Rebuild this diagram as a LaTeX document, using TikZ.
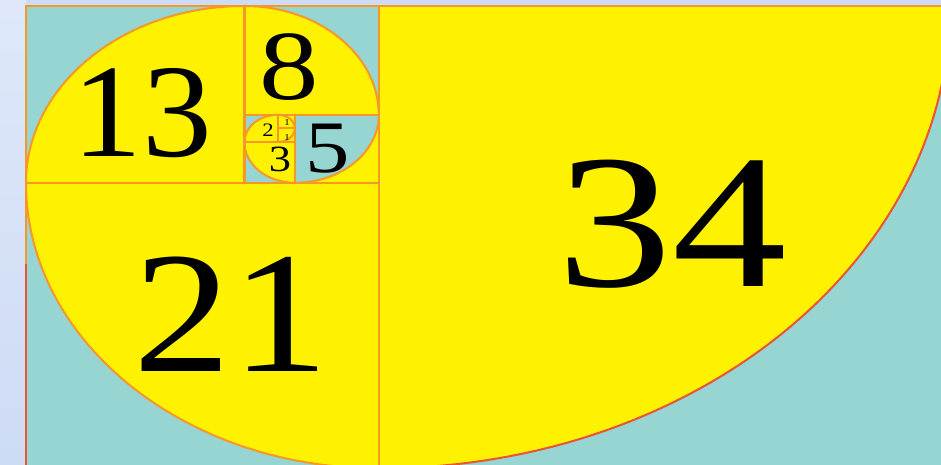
\documentclass[tikz,border=0pt]{standalone}
\usepackage{fontspec}
\setmainfont{Liberation Serif}
\usepackage{graphicx}
\definecolor{bgblue}{RGB}{206,219,245}
\definecolor{bglight}{RGB}{222,232,250}
\definecolor{fibteal}{RGB}{150,213,210}
\definecolor{fibyellow}{RGB}{255,242,0}
\definecolor{fibline}{RGB}{245,152,40}
\definecolor{fibred}{RGB}{232,84,52}
\tikzset{
  qr/.style={x radius=#1*16.8pt, y radius=#1*13.6pt},
  sq/.style={draw=fibline, line width=2.2pt},
  spiral/.style={draw=fibline, line width=2pt},
  spiralred/.style={draw=fibred, line width=2pt},
  lbl/.style={anchor=base, inner sep=0pt, text=black},
}
\newcommand{\fibnum}[3][1.2]{\fontsize{#2}{#2}\selectfont\scalebox{#1}[1]{#3}}
\begin{document}
\begin{tikzpicture}
\useasboundingbox (0,0) rectangle (941pt,465pt);
\clip (0,0) rectangle (941pt,465pt);
\fill[bgblue] (0,0) rectangle (941pt,465pt);
\shade[top color=bglight, bottom color=bgblue] (0,0) rectangle (26pt,465pt);
\begin{scope}[shift={(26pt,-3.4pt)}, x=16.8pt, y=13.6pt]
  % base colour
  \fill[fibteal] (0,0) rectangle (55,34);
  % yellow quarter discs
  \fill[fibyellow] (21,34) -- (55,34) arc[start angle=0,end angle=-90,qr=34] -- cycle;
  \fill[fibyellow] (21,21) -- (21,0) arc[start angle=-90,end angle=-180,qr=21] -- cycle;
  \fill[fibyellow] (13,21) -- (0,21) arc[start angle=180,end angle=90,qr=13] -- cycle;
  \fill[fibyellow] (13,26) -- (13,34) arc[start angle=90,end angle=0,qr=8] -- cycle;
  \fill[fibyellow] (16,21) rectangle (21,26);
  \fill[fibteal] (16,26) -- (21,26) arc[start angle=0,end angle=-90,qr=5] -- cycle;
  \fill[fibyellow] (16,24) -- (16,21) arc[start angle=-90,end angle=-180,qr=3] -- cycle;
  \fill[fibyellow] (15,24) -- (13,24) arc[start angle=180,end angle=90,qr=2] -- cycle;
  \fill[fibyellow] (15,24) rectangle (16,26);
  % spiral arcs
  \draw[spiralred] (55,34) arc[start angle=0,end angle=-90,qr=34];
  \draw[spiral] (21,0) arc[start angle=-90,end angle=-180,qr=21];
  \draw[spiral] (0,21) arc[start angle=180,end angle=90,qr=13];
  \draw[spiral] (13,34) arc[start angle=90,end angle=0,qr=8];
  \draw[spiral] (21,26) arc[start angle=0,end angle=-90,qr=5];
  \draw[spiral] (16,21) arc[start angle=-90,end angle=-180,qr=3];
  \draw[spiral] (13,24) arc[start angle=180,end angle=90,qr=2];
  \draw[spiral] (15,26) arc[start angle=90,end angle=0,qr=1];
  \draw[spiral] (16,25) arc[start angle=0,end angle=-90,qr=1];
  % square borders
  \draw[sq] (21,0) rectangle (55,34);
  \draw[sq] (0,0) rectangle (21,21);
  \draw[sq] (0,21) rectangle (13,34);
  \draw[sq] (13,26) rectangle (21,34);
  \draw[sq] (16,21) rectangle (21,26);
  \draw[sq] (13,21) rectangle (16,24);
  \draw[sq] (13,24) rectangle (15,26);
  \draw[sq] (15,25) rectangle (16,26);
  \draw[sq] (15,24) rectangle (16,25);
  \draw[line width=2.2pt, fibred] (0,0) -- (0,15);
\end{scope}
% labels
\node[lbl] (n34) at (672pt,178pt) {\fibnum{191}{34}};
\node[lbl] (n21) at (231pt,93pt) {\fibnum[1.13]{173}{21}};
\node[lbl] (n13) at (142pt,308pt) {\fibnum[1.05]{133}{13}};
\node[lbl] (n8) at (289pt,365pt) {\fibnum{99}{8}};
\node[lbl] (n5) at (328pt,292pt) {\fibnum{74}{5}};
\node[lbl] (n3) at (280pt,293pt) {\fibnum{37}{3}};
\node[lbl] (n2) at (268pt,328pt) {\fibnum{19}{2}};
\node[lbl] (n1a) at (287pt,339.5pt) {\fibnum{9}{1}};
\node[lbl] (n1b) at (287pt,324.5pt) {\fibnum{9}{1}};
\end{tikzpicture}
\end{document}
